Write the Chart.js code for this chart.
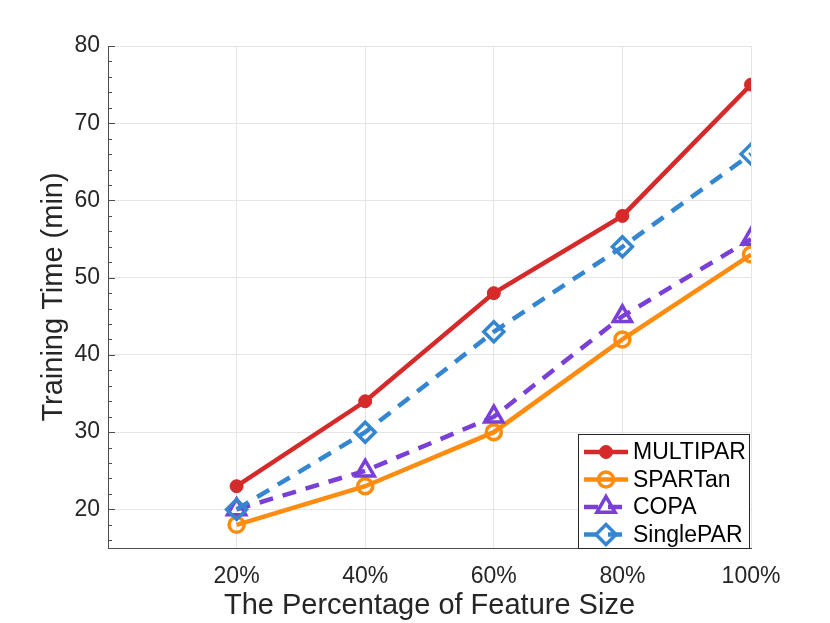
<!DOCTYPE html>
<html><head><meta charset="utf-8">
<script src="https://cdn.jsdelivr.net/npm/chart.js@4.4.0/dist/chart.umd.min.js"></script>
<style>html,body{margin:0;padding:0;background:#fff}#wrap{width:830px;height:623px}</style>
</head><body><div id="wrap"><canvas id="c" width="830" height="623"></canvas></div>
<script>
const categories = [20, 40, 60, 80, 100];
const xTickLabels = ['20%', '40%', '60%', '80%', '100%'];
const yTicks = [20, 30, 40, 50, 60, 70, 80];
const multipar = [23, 34, 48, 58, 75];
const spartan = [18, 23, 30, 42, 53];
const copa = [20, 25, 32, 45, 55];
const singlepar = [20, 30, 43, 54, 66];
const seriesNames = ['MULTIPAR', 'SPARTan', 'COPA', 'SinglePAR'];

const FONT = '"Liberation Sans", Arial, Helvetica, sans-serif';
Chart.defaults.font.family = FONT;
Chart.defaults.color = '#262626';

const pts = arr => categories.map((x, i) => ({x: x, y: arr[i]}));
const clear = 'rgba(255,255,255,0)';

const datasets = [
  {label: seriesNames[0], data: pts(multipar), borderColor: '#d62a2a', backgroundColor: '#d62a2a',
   borderWidth: 4.5, pointStyle: 'circle', pointRadius: 6.5, pointBorderWidth: 1, order: 4},
  {label: seriesNames[1], data: pts(spartan), borderColor: '#ff8c0f', backgroundColor: clear,
   borderWidth: 4.5, pointStyle: 'circle', pointRadius: 7.5, pointBorderWidth: 3.5, order: 3},
  {label: seriesNames[2], data: pts(copa), borderColor: '#7a3fd6', backgroundColor: clear,
   borderWidth: 4.5, borderDash: [14, 10], pointStyle: 'triangle', pointRadius: 10.5, pointBorderWidth: 3.5, order: 2},
  {label: seriesNames[3], data: pts(singlepar), borderColor: '#3586d1', backgroundColor: clear,
   borderWidth: 4.5, borderDash: [14, 10], pointStyle: 'rectRot', pointRadius: 10, pointBorderWidth: 3.5, order: 1}
];

const minorTicks = {
  id: 'minorTicks',
  afterDraw(chart) {
    const ctx = chart.ctx, y = chart.scales.y, a = chart.chartArea;
    ctx.save();
    ctx.strokeStyle = '#4d4d4d';
    ctx.lineWidth = 1;
    for (let v = 16; v <= 80; v += 2) {
      const py = Math.round(y.getPixelForValue(v)) + 0.5;
      const len = (v % 10 === 0) ? 7 : 4;
      ctx.beginPath(); ctx.moveTo(a.left, py); ctx.lineTo(a.left + len, py); ctx.stroke();
    }
    ctx.restore();
  }
};

const legendBox = {
  id: 'legendBox',
  afterDraw(chart) {
    const ctx = chart.ctx, a = chart.chartArea;
    const w = 171, h = 114;
    const x0 = a.right - 2 - w, y0 = a.bottom - h;
    ctx.save();
    ctx.fillStyle = '#fff';
    ctx.fillRect(x0, y0, w, h);
    ctx.strokeStyle = '#262626';
    ctx.lineWidth = 1;
    ctx.strokeRect(x0 + 0.5, y0 + 0.5, w, h);
    ctx.font = '23px ' + FONT;
    ctx.textBaseline = 'middle';
    chart.data.datasets.forEach((ds, i) => {
      const cy = y0 + 18 + i * 27.5;
      ctx.strokeStyle = ds.borderColor;
      ctx.lineWidth = 4.5;
      ctx.setLineDash(ds.borderDash || []);
      ctx.beginPath(); ctx.moveTo(x0 + 6, cy); ctx.lineTo(x0 + 50, cy); ctx.stroke();
      ctx.setLineDash([]);
      ctx.fillStyle = ds.backgroundColor;
      ctx.strokeStyle = ds.borderColor;
      ctx.lineWidth = ds.pointBorderWidth;
      Chart.helpers.drawPoint(ctx, {pointStyle: ds.pointStyle, radius: ds.pointRadius, borderWidth: ds.pointBorderWidth, rotation: 0},
        x0 + 28, cy);
      ctx.fillStyle = '#000';
      ctx.fillText(ds.label, x0 + 55, cy + 1);
    });
    ctx.restore();
  }
};

new Chart(document.getElementById('c'), {
  type: 'line',
  data: {datasets: datasets},
  options: {
    responsive: false,
    animation: false,
    devicePixelRatio: 1,
    layout: {padding: {left: 0, right: 79, top: 46, bottom: 0}},
    plugins: {legend: {display: false}, tooltip: {enabled: false}},
    elements: {line: {tension: 0}},
    scales: {
      x: {
        type: 'linear', min: 0, max: 100,
        afterBuildTicks: s => { s.ticks = categories.map(v => ({value: v})); },
        afterFit: s => { s.height = 75; },
        ticks: {font: {size: 23}, color: '#262626', padding: 15, maxRotation: 0,
          callback: (v) => xTickLabels[categories.indexOf(v)]},
        grid: {color: '#e5e5e5', lineWidth: 1, drawTicks: false},
        border: {display: true, color: '#4d4d4d', width: 1},
        title: {display: true, text: 'The Percentage of Feature Size', font: {size: 29}, color: '#262626', padding: {top: 0, bottom: 0}}
      },
      y: {
        type: 'linear', min: 15, max: 80,
        afterBuildTicks: s => { s.ticks = yTicks.map(v => ({value: v})); },
        afterFit: s => { s.width = 108; },
        ticks: {font: {size: 23}, color: '#262626', padding: 8},
        grid: {color: '#e5e5e5', lineWidth: 1, drawTicks: false},
        border: {display: true, color: '#4d4d4d', width: 1},
        title: {display: true, text: 'Training Time (min)', font: {size: 29}, color: '#262626', padding: {top: 37, bottom: 0}}
      }
    }
  },
  plugins: [minorTicks, legendBox]
});
</script></body></html>
